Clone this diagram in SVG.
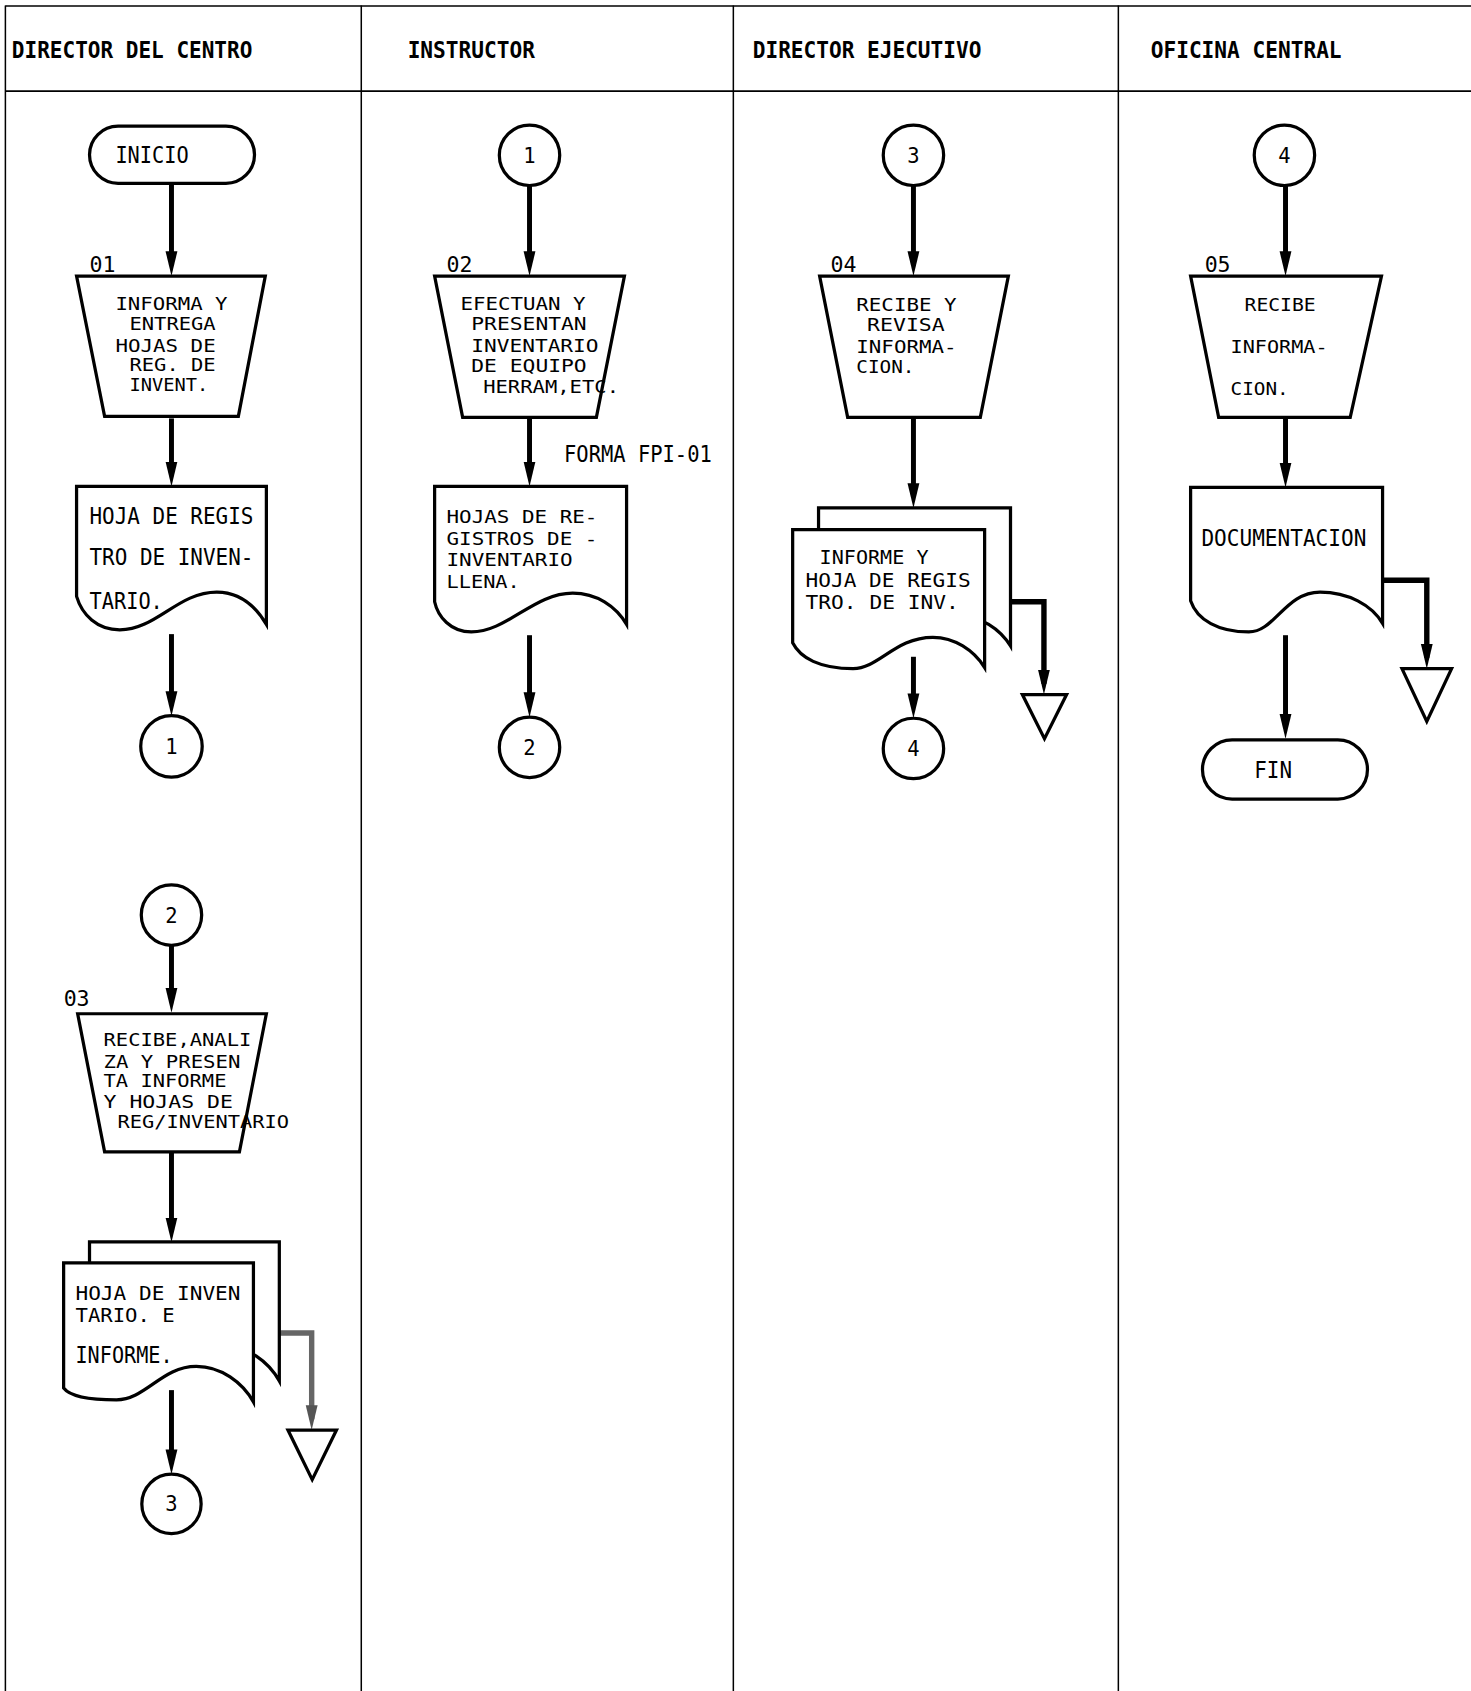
<svg xmlns="http://www.w3.org/2000/svg" width="1471" height="1691" viewBox="0 0 1471 1691">
<style>
.lane{stroke:#000;stroke-width:1.4;fill:none}
.shape{stroke:#000;stroke-width:3;fill:#fff;stroke-linejoin:miter}
.flow{stroke:#000;stroke-width:4.6;fill:none}
.arch{stroke:#000;stroke-width:5;fill:none}
.tri{stroke:#000;stroke-width:3;fill:#fff}
text{font-family:"DejaVu Sans Mono","Liberation Mono",monospace;fill:#000}
.hdr{font-size:22px;font-weight:bold}
.op{font-size:16px}
.doc{font-size:21px}
.tight{font-size:16.5px}
.tight2{font-size:17.5px}
.num{font-size:19px;text-anchor:middle}
.lbl{font-size:20px}
</style>
<defs>
<marker id="ah" markerUnits="userSpaceOnUse" markerWidth="24" markerHeight="12" refX="13" refY="6" orient="auto">
<path d="M0,0.5 L23,6 L0,11.5 z" fill="#000"/>
</marker>
<marker id="ahg" markerUnits="userSpaceOnUse" markerWidth="24" markerHeight="12" refX="13" refY="6" orient="auto">
<path d="M0,0.5 L23,6 L0,11.5 z" fill="#555"/>
</marker>
</defs>
<rect width="1471" height="1691" fill="#fff"/>
<g transform="scale(1.07845)">
<g id="lanes">
<line class="lane" x1="5" y1="5.5" x2="1364" y2="5.5"/>
<line class="lane" x1="5" y1="84.5" x2="1364" y2="84.5"/>
<line class="lane" x1="5" y1="5" x2="5" y2="1568"/>
<line class="lane" x1="335" y1="5" x2="335" y2="1568"/>
<line class="lane" x1="680" y1="5" x2="680" y2="1568"/>
<line class="lane" x1="1037" y1="5" x2="1037" y2="1568"/>
<text class="hdr" x="11" y="54" textLength="223" lengthAdjust="spacingAndGlyphs">DIRECTOR DEL CENTRO</text>
<text class="hdr" x="378" y="54" textLength="118" lengthAdjust="spacingAndGlyphs">INSTRUCTOR</text>
<text class="hdr" x="698" y="54" textLength="212" lengthAdjust="spacingAndGlyphs">DIRECTOR EJECUTIVO</text>
<text class="hdr" x="1067" y="54" textLength="177" lengthAdjust="spacingAndGlyphs">OFICINA CENTRAL</text>
</g>

<g id="connectors">
<path class="flow" marker-end="url(#ah)" d="M159,171 V246"/>
<path class="flow" marker-end="url(#ah)" d="M159,388 V441"/>
<path class="flow" marker-end="url(#ah)" d="M159,588 V654"/>
<path class="flow" marker-end="url(#ah)" d="M159,876 V929"/>
<path class="flow" marker-end="url(#ah)" d="M159,1069 V1142"/>
<path class="flow" marker-end="url(#ah)" d="M159,1289 V1357"/>
<path class="flow" marker-end="url(#ah)" d="M491,172 V246"/>
<path class="flow" marker-end="url(#ah)" d="M491,388 V441"/>
<path class="flow" marker-end="url(#ah)" d="M491,589 V655"/>
<path class="flow" marker-end="url(#ah)" d="M847,172 V246"/>
<path class="flow" marker-end="url(#ah)" d="M847,388 V461"/>
<path class="flow" marker-end="url(#ah)" d="M847,609 V656"/>
<path class="flow" marker-end="url(#ah)" d="M1192,172 V246"/>
<path class="flow" marker-end="url(#ah)" d="M1192,388 V442"/>
<path class="flow" marker-end="url(#ah)" d="M1192,589 V675"/>
<path class="arch" style="stroke:#666" marker-end="url(#ahg)" d="M259,1236 H289 V1316"/>
<path class="arch" marker-end="url(#ah)" d="M937,558 H968 V634"/>
<path class="arch" marker-end="url(#ah)" d="M1282,538 H1323 V610"/>
</g>

<g id="inicio">
<rect class="shape" x="83" y="117" width="153" height="53" rx="26.5"/>
<text class="doc" x="107" y="151" textLength="68" lengthAdjust="spacingAndGlyphs">INICIO</text>
</g>
<g id="op01">
<polygon class="shape" points="71,256 246,256 221,386 97,386"/>
<text class="lbl" x="83" y="252">01</text>
<text class="op" x="107" y="287" textLength="104" lengthAdjust="spacingAndGlyphs">INFORMA Y</text>
<text class="op" x="120" y="306" textLength="80" lengthAdjust="spacingAndGlyphs">ENTREGA</text>
<text class="op" x="107" y="326" textLength="93" lengthAdjust="spacingAndGlyphs">HOJAS DE</text>
<text class="op" x="120" y="344" textLength="80" lengthAdjust="spacingAndGlyphs">REG. DE</text>
<text class="op" x="120" y="363" textLength="73" lengthAdjust="spacingAndGlyphs">INVENT.</text>
</g>
<g id="doc01">
<path class="shape" d="M71,451 H247 V579 C237,562 222,549 201,549 C165,549 145,584 111,584 C90,584 76,570 71,553 Z"/>
<text class="doc" x="83" y="486" textLength="152" lengthAdjust="spacingAndGlyphs">HOJA DE REGIS</text>
<text class="doc" x="83" y="524" textLength="152" lengthAdjust="spacingAndGlyphs">TRO DE INVEN-</text>
<text class="doc" x="83" y="565" textLength="68" lengthAdjust="spacingAndGlyphs">TARIO.</text>
</g>
<g id="c1out">
<circle class="shape" cx="159" cy="692" r="28.5"/>
<text class="num" x="159" y="699">1</text>
</g>
<g id="c2in">
<circle class="shape" cx="159" cy="848.5" r="28"/>
<text class="num" x="159" y="855.5">2</text>
</g>
<g id="op03">
<polygon class="shape" points="72,940 247,940 222,1068 97,1068"/>
<text class="lbl" x="59" y="933">03</text>
<text class="op" x="96" y="970" textLength="137" lengthAdjust="spacingAndGlyphs">RECIBE,ANALI</text>
<text class="op" x="96" y="990" textLength="127" lengthAdjust="spacingAndGlyphs">ZA Y PRESEN</text>
<text class="op" x="96" y="1008" textLength="114" lengthAdjust="spacingAndGlyphs">TA INFORME</text>
<text class="op" x="96" y="1027" textLength="120" lengthAdjust="spacingAndGlyphs">Y HOJAS DE</text>
<text class="op" x="109" y="1046" textLength="159" lengthAdjust="spacingAndGlyphs">REG/INVENTARIO</text>
</g>
<g id="doc03">
<path class="shape" transform="translate(24,-19.5)" d="M59,1171 H235 V1300 C225,1282 205,1267 182,1267 C150,1267 135,1298 108,1298 C82,1298 65,1295 59,1287 Z"/>
<path class="shape" d="M59,1171 H235 V1300 C225,1282 205,1267 182,1267 C150,1267 135,1298 108,1298 C82,1298 65,1295 59,1287 Z"/>
<text class="tight2" x="70" y="1205" textLength="153" lengthAdjust="spacingAndGlyphs">HOJA DE INVEN</text>
<text class="tight2" x="70" y="1226" textLength="92" lengthAdjust="spacingAndGlyphs">TARIO. E</text>
<text class="doc" x="70" y="1264" textLength="90" lengthAdjust="spacingAndGlyphs">INFORME.</text>
</g>
<g id="arch03">
<polygon class="tri" points="267,1326 312,1326 289.5,1372"/>
</g>
<g id="c3out">
<circle class="shape" cx="159" cy="1394.5" r="27.5"/>
<text class="num" x="159" y="1401.5">3</text>
</g>

<g id="c1in">
<circle class="shape" cx="491" cy="144" r="28"/>
<text class="num" x="491" y="151">1</text>
</g>
<g id="op02">
<polygon class="shape" points="403,256 579,256 553,387 429,387"/>
<text class="lbl" x="414" y="252">02</text>
<text class="op" x="427" y="287" textLength="116" lengthAdjust="spacingAndGlyphs">EFECTUAN Y</text>
<text class="op" x="437" y="306" textLength="107" lengthAdjust="spacingAndGlyphs">PRESENTAN</text>
<text class="op" x="437" y="326" textLength="118" lengthAdjust="spacingAndGlyphs">INVENTARIO</text>
<text class="op" x="437" y="345" textLength="107" lengthAdjust="spacingAndGlyphs">DE EQUIPO</text>
<text class="op" x="448" y="364" textLength="126" lengthAdjust="spacingAndGlyphs">HERRAM,ETC.</text>
</g>
<g id="forma">
<text class="doc" x="523" y="428" textLength="137" lengthAdjust="spacingAndGlyphs">FORMA FPI-01</text>
</g>
<g id="doc02">
<path class="shape" d="M403,451 H581 V579 C571,562 553,550 531,550 C495,550 470,586 437,586 C418,586 406,572 403,558 Z"/>
<text class="tight" x="414" y="485" textLength="140" lengthAdjust="spacingAndGlyphs">HOJAS DE RE-</text>
<text class="tight" x="414" y="505" textLength="140" lengthAdjust="spacingAndGlyphs">GISTROS DE -</text>
<text class="tight" x="414" y="525" textLength="117" lengthAdjust="spacingAndGlyphs">INVENTARIO</text>
<text class="tight" x="414" y="545" textLength="68" lengthAdjust="spacingAndGlyphs">LLENA.</text>
</g>
<g id="c2out">
<circle class="shape" cx="491" cy="693" r="28"/>
<text class="num" x="491" y="700">2</text>
</g>

<g id="c3in">
<circle class="shape" cx="847" cy="144" r="28"/>
<text class="num" x="847" y="151">3</text>
</g>
<g id="op04">
<polygon class="shape" points="760,256 935,256 909,387 786,387"/>
<text class="lbl" x="770" y="252">04</text>
<text class="op" x="794" y="288" textLength="93" lengthAdjust="spacingAndGlyphs">RECIBE Y</text>
<text class="op" x="804" y="307" textLength="72" lengthAdjust="spacingAndGlyphs">REVISA</text>
<text class="op" x="794" y="327" textLength="93" lengthAdjust="spacingAndGlyphs">INFORMA-</text>
<text class="op" x="794" y="346" textLength="54" lengthAdjust="spacingAndGlyphs">CION.</text>
</g>
<g id="doc04">
<path class="shape" transform="translate(24,-20)" d="M735,491 H913 V619 C903,603 885,591 865,591 C830,591 815,620 791,620 C760,620 742,610 735,596 Z"/>
<path class="shape" d="M735,491 H913 V619 C903,603 885,591 865,591 C830,591 815,620 791,620 C760,620 742,610 735,596 Z"/>
<text class="tight2" x="760" y="523" textLength="101" lengthAdjust="spacingAndGlyphs">INFORME Y</text>
<text class="tight2" x="747" y="544" textLength="153" lengthAdjust="spacingAndGlyphs">HOJA DE REGIS</text>
<text class="tight2" x="747" y="565" textLength="142" lengthAdjust="spacingAndGlyphs">TRO. DE INV.</text>
</g>
<g id="arch04">
<polygon class="tri" points="948,644 989,644 968.5,685"/>
</g>
<g id="c4out">
<circle class="shape" cx="847" cy="694" r="28"/>
<text class="num" x="847" y="701">4</text>
</g>

<g id="c4in">
<circle class="shape" cx="1191" cy="144" r="28"/>
<text class="num" x="1191" y="151">4</text>
</g>
<g id="op05">
<polygon class="shape" points="1104,256 1281,256 1252,387 1130,387"/>
<text class="lbl" x="1117" y="252">05</text>
<text class="op" x="1154" y="288" textLength="66" lengthAdjust="spacingAndGlyphs">RECIBE</text>
<text class="op" x="1141" y="327" textLength="90" lengthAdjust="spacingAndGlyphs">INFORMA-</text>
<text class="op" x="1141" y="366" textLength="54" lengthAdjust="spacingAndGlyphs">CION.</text>
</g>
<g id="doc05">
<path class="shape" d="M1104,452 H1282 V578 C1272,561 1250,549 1224,549 C1192,549 1182,586 1158,586 C1130,586 1110,575 1104,557 Z"/>
<text class="doc" x="1114" y="506" textLength="153" lengthAdjust="spacingAndGlyphs">DOCUMENTACION</text>
</g>
<g id="arch05">
<polygon class="tri" points="1300,620 1346,620 1323,669"/>
</g>
<g id="fin">
<rect class="shape" x="1115" y="686" width="153" height="55" rx="27.5"/>
<text class="doc" x="1163" y="721" textLength="35" lengthAdjust="spacingAndGlyphs">FIN</text>
</g>
</g>
</svg>
